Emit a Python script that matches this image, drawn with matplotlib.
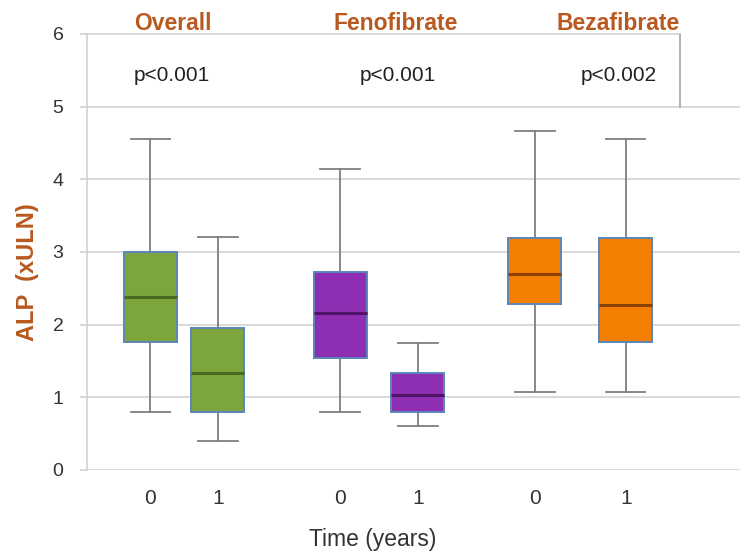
import matplotlib.pyplot as plt

plt.rcParams['font.family'] = ['Liberation Sans', 'DejaVu Sans']

# ALP (xULN) at baseline (0) and after one year (1), per treatment group
groups = ['Overall', 'Fenofibrate', 'Bezafibrate']
p_values = ['p<0.001', 'p<0.001', 'p<0.002']
time_labels = ['0', '1', '0', '1', '0', '1']
whislo = [0.80, 0.40, 0.80, 0.60, 1.07, 1.07]
q1 = [1.76, 0.80, 1.54, 0.80, 2.28, 1.76]
med = [2.38, 1.33, 2.16, 1.03, 2.70, 2.27]
q3 = [3.00, 1.95, 2.72, 1.33, 3.19, 3.19]
whishi = [4.55, 3.21, 4.14, 1.75, 4.66, 4.55]

fills = ['#7da53e', '#7da53e', '#8e2fb3', '#8e2fb3', '#f57f00', '#f57f00']
medcols = ['#4a6a22', '#4a6a22', '#4e1266', '#4e1266', '#8a4300', '#8a4300']
positions = [0.87, 1.80, 3.48, 4.55, 6.16, 7.41]
group_x = [1.18, 4.25, 7.31]
pval_x = [1.16, 4.28, 7.31]
title_col = '#b85a1f'

fig = plt.figure(figsize=(7.4, 5.52), dpi=100)
ax = fig.add_axes([0.1176, 0.1486, 0.8824, 0.7899])

stats = []
for i in range(len(med)):
    stats.append({'whislo': whislo[i], 'q1': q1[i], 'med': med[i],
                  'q3': q3[i], 'whishi': whishi[i], 'fliers': []})

bp = ax.bxp(stats, positions=positions, widths=0.73, patch_artist=True,
            showfliers=False,
            whiskerprops=dict(color='#7f7f7f', linewidth=1.3),
            capprops=dict(color='#7f7f7f', linewidth=1.3),
            boxprops=dict(edgecolor='#5b86b8', linewidth=1.4),
            medianprops=dict(linewidth=2.2))
for box, fc in zip(bp['boxes'], fills):
    box.set_facecolor(fc)
    box.set_zorder(3)
for line, mc in zip(bp['medians'], medcols):
    line.set_color(mc)
    line.set_zorder(4)
for cap in bp['caps']:
    x0, x1 = cap.get_xdata()
    c = (x0 + x1) / 2
    cap.set_xdata([c - 0.27, c + 0.27])

ax.set_xlim(0, 8.98)
ax.set_ylim(0, 6)
ax.set_yticks(range(0, 7))
ax.set_xticks(positions)
ax.set_xticklabels(time_labels)
ax.tick_params(axis='y', length=5, color='#d4d4d4', width=1.3, pad=12,
               labelsize=14, labelcolor='#333333')
ax.tick_params(axis='x', length=0, pad=14, labelsize=15, labelcolor='#333333')

# horizontal grid; the top line stops at the header frame
for y in range(0, 6):
    ax.axhline(y, color='#d9d9d9', linewidth=1.4, zorder=0)
ax.plot([0, 8.16], [6, 6], color='#d9d9d9', linewidth=1.4, clip_on=False)
ax.plot([8.16, 8.16], [5, 6], color='#a6a6a6', linewidth=1.2)

for s in ['top', 'right', 'bottom']:
    ax.spines[s].set_visible(False)
ax.spines['left'].set_color('#d4d4d4')
ax.spines['left'].set_linewidth(1.3)

for gx, name in zip(group_x, groups):
    ax.text(gx, 6.15, name, ha='center', va='center', fontsize=16.5,
            fontweight='bold', color=title_col)
for px, pv in zip(pval_x, p_values):
    ax.text(px, 5.43, pv, ha='center', va='center', fontsize=15,
            color='#222222')

ax.set_ylabel('ALP  (xULN)', fontsize=17, fontweight='bold', color=title_col)
ax.yaxis.set_label_coords(-0.074, 0.454)
ax.set_xlabel('Time (years)', fontsize=16.5, color='#333333')
ax.xaxis.set_label_coords(0.438, -0.133)

fig.savefig('out.png', dpi=100)
